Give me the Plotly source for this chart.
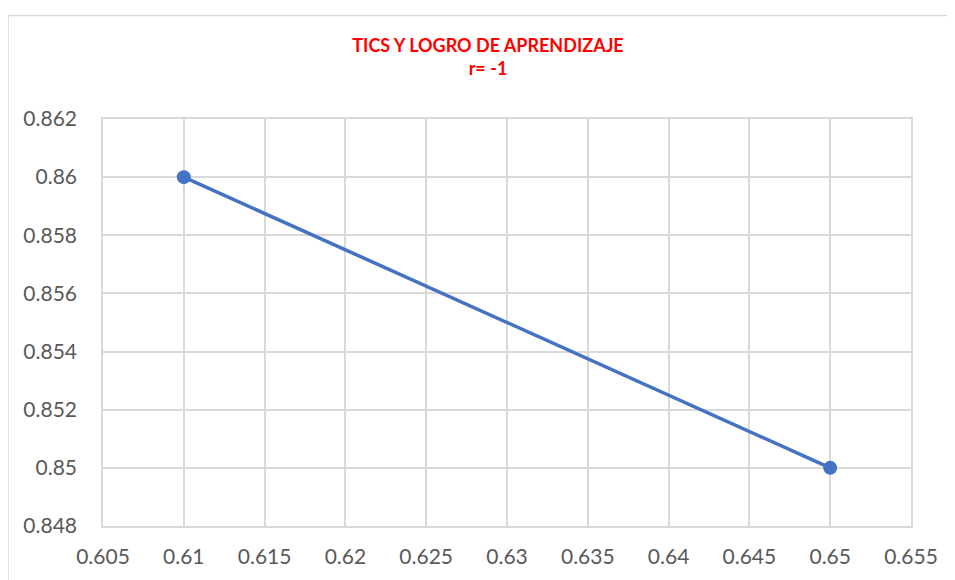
import plotly.graph_objects as go

# datos
tics = [0.61, 0.65]
logro = [0.86, 0.85]
x_ticks = [0.605, 0.61, 0.615, 0.62, 0.625, 0.63, 0.635, 0.64, 0.645, 0.65, 0.655]
y_ticks = [0.848, 0.85, 0.852, 0.854, 0.856, 0.858, 0.86, 0.862]

# la pagina deja 8px de margen en el body
OFF = 8
W, H = 955 - OFF, 580 - OFF
L, R, T, B = 103 - OFF, 44, 119 - OFF, 48
pw, ph = W - L - R, H - T - B

fig = go.Figure()
fig.add_trace(go.Scatter(
    x=tics, y=logro, mode='lines+markers',
    line=dict(color='#4472C4', width=3.5),
    marker=dict(color='#4472C4', size=14),
    showlegend=False))

tickfont = dict(family='Lato, Carlito, Calibri, sans-serif', size=21, color='#595959')
fig.update_layout(
    width=W, height=H,
    margin=dict(l=L, r=R, t=T, b=B),
    plot_bgcolor='white', paper_bgcolor='white',
    title=dict(text='<b>TICS Y LOGRO DE APRENDIZAJE<br>r= -1</b>',
               x=(488 - OFF) / W, xanchor='center', y=1 - (52 - OFF) / H, yanchor='top',
               font=dict(family='Lato, Carlito, Calibri, sans-serif', size=18, color='#FF0000')),
    xaxis=dict(range=[0.605, 0.655], tickvals=x_ticks, ticktext=[f'{v:g}' for v in x_ticks],
               showgrid=True, gridcolor='#d9d9d9', gridwidth=1.5,
               showline=True, linecolor='#d9d9d9', linewidth=1.5, mirror=True,
               zeroline=False, tickfont=tickfont, ticks='', ticklabelstandoff=11),
    yaxis=dict(range=[0.848, 0.862], tickvals=y_ticks, ticktext=[f'{v:g}' for v in y_ticks],
               showgrid=True, gridcolor='#d9d9d9', gridwidth=1.5,
               showline=True, linecolor='#d9d9d9', linewidth=1.5, mirror=True,
               zeroline=False, tickfont=tickfont, ticks='', ticklabelstandoff=20),
)

# borde del area del grafico
fig.add_shape(type='rect', xref='paper', yref='paper',
              x0=(8 - 103) / pw, x1=2, y0=-1, y1=1 + (119 - 14) / ph,
              line=dict(color='#d9d9d9', width=1.5), fillcolor='rgba(0,0,0,0)', layer='below')

fig.write_html('out.html')
